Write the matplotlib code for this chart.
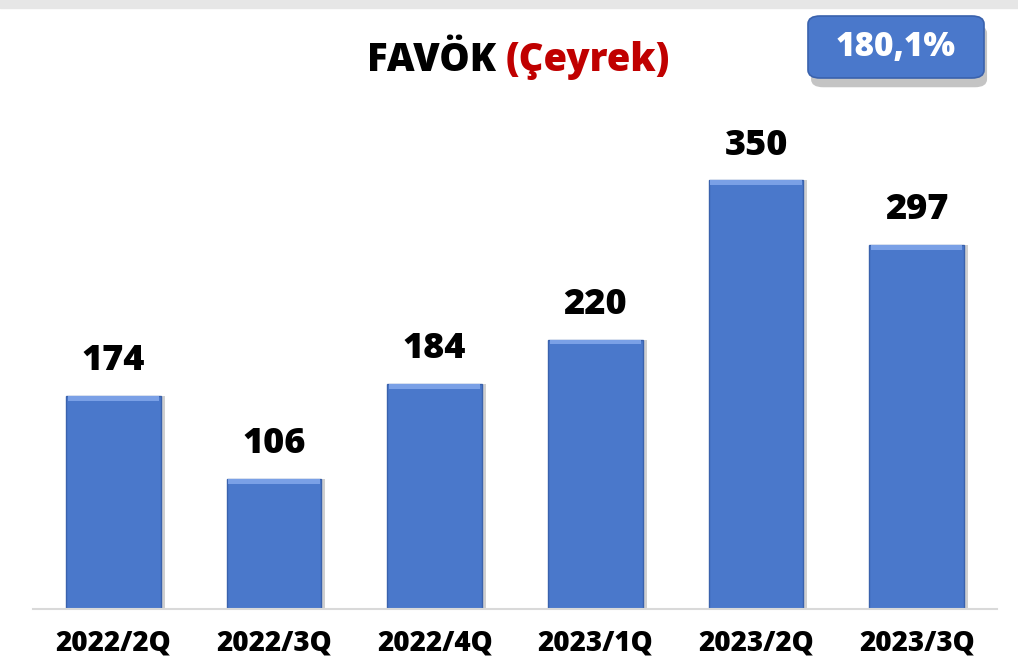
import matplotlib.pyplot as plt
from matplotlib.patches import FancyBboxPatch, Rectangle

quarters = ["2022/2Q", "2022/3Q", "2022/4Q", "2023/1Q", "2023/2Q", "2023/3Q"]
favok = [174, 106, 184, 220, 350, 297]
growth_label = "180,1%"

BAR_COLOR = "#4a78cb"
FONT = "Open Sans"

plt.rcParams["font.family"] = [FONT, "DejaVu Sans"]

fig = plt.figure(figsize=(10.18, 6.62), dpi=100)
ax = fig.add_axes([33 / 1018, 53 / 662, 964 / 1018, 490 / 662])

x = list(range(len(quarters)))

# soft shadow behind the bars
ax.bar([i + 0.025 for i in x], favok, width=0.59, color="#cfcfcf", zorder=1)
ax.bar(x, favok, width=0.59, color=BAR_COLOR, edgecolor="#3a62ad", linewidth=1.0, zorder=2)
# bevel strip along the top
ax.bar(x, [4] * len(x), bottom=[v - 4 for v in favok], width=0.57,
       color="#7aa0e6", linewidth=0, zorder=3)

for i, v in zip(x, favok):
    ax.annotate(str(v), (i, v), xytext=(0, 25), textcoords="offset points",
                ha="center", va="center", fontsize=26, fontweight="heavy", color="black")

ax.set_xlim(-0.5, 5.5)
ax.set_ylim(0, 400)
ax.set_xticks(x)
ax.set_xticklabels(quarters, fontsize=20, fontweight="heavy")
ax.tick_params(axis="x", length=0, pad=14)
ax.set_yticks([])
for side in ["top", "right", "left"]:
    ax.spines[side].set_visible(False)
ax.spines["bottom"].set_color("#d9d9d9")
ax.spines["bottom"].set_linewidth(1.5)

# title
fig.text(0.497, 0.909, "FAVÖK ", ha="right", va="center", fontsize=27.5, fontweight="heavy", color="black")
fig.text(0.497, 0.909, "(Çeyrek)", ha="left", va="center", fontsize=27.5, fontweight="heavy", color="#c00000")

# top grey band
fig.patches.append(Rectangle((0, 654 / 662), 1, 8 / 662, transform=fig.transFigure,
                             color="#e6e6e6", zorder=0))

# growth badge
bx, by, bw, bh = 808 / 1018, 584 / 662, 176 / 1018, 62 / 662
shadow = FancyBboxPatch((bx + 0.003, by - 0.014), bw, bh, boxstyle="round,pad=0,rounding_size=0.012",
                        transform=fig.transFigure, facecolor="#c4c4c4", edgecolor="none", zorder=1)
badge = FancyBboxPatch((bx, by), bw, bh, boxstyle="round,pad=0,rounding_size=0.012",
                       transform=fig.transFigure, facecolor="#4a78cb", edgecolor="#3a62ad",
                       linewidth=1.2, zorder=2)
fig.patches.append(shadow)
fig.patches.append(badge)
fig.text(bx + bw / 2, by + bh / 2, growth_label, ha="center", va="center",
         fontsize=24, fontweight="heavy", color="white", zorder=3)

fig.savefig("out.png", dpi=100)
